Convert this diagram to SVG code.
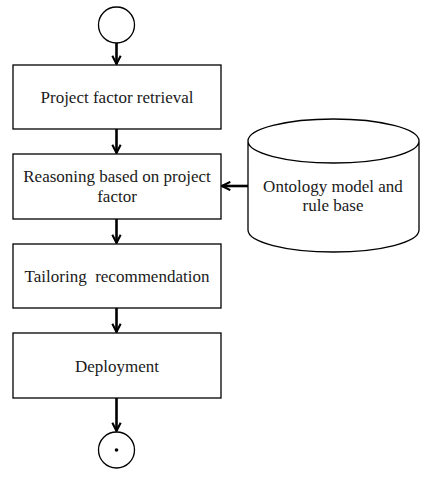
<svg xmlns="http://www.w3.org/2000/svg" width="434" height="478" viewBox="0 0 434 478">
<defs>
<style>
.box{fill:#fff;stroke:#000;stroke-width:1.3}
.t{font-family:'Liberation Serif','Times New Roman',serif;font-size:17px;fill:#1a1a1a;text-anchor:middle}
.c{fill:none;stroke:#000;stroke-width:2.6}
</style>
<marker id="ah" viewBox="0 0 10 10" refX="9" refY="5" markerWidth="4" markerHeight="4" orient="auto" markerUnits="strokeWidth">
<path d="M1,1 L9,5 L1,9" fill="none" stroke="#000" stroke-width="2"/>
</marker>
</defs>
<rect width="434" height="478" fill="#fff"/>
<g id="start"><circle cx="116.5" cy="25" r="18" class="box"/></g>
<g id="n1"><rect x="13" y="65" width="208" height="64" class="box"/><text class="t" x="117" y="103">Project factor retrieval</text></g>
<g id="n2"><rect x="13" y="154" width="208" height="65" class="box"/><text class="t" x="117" y="182">Reasoning based on project</text><text class="t" x="117" y="202">factor</text></g>
<g id="n3"><rect x="13" y="244" width="208" height="64" class="box"/><text class="t" x="117" y="282" xml:space="preserve">Tailoring  recommendation</text></g>
<g id="n4"><rect x="13" y="333" width="208" height="65" class="box"/><text class="t" x="117" y="372">Deployment</text></g>
<g id="end"><circle cx="116.5" cy="450" r="18" class="box"/><circle cx="116.5" cy="450" r="1.8" fill="#000"/></g>
<g id="db"><path d="M248,141 L248,230 A85.5,22 0 0 0 419,230 L419,141 A85.5,22 0 0 0 248,141 A85.5,22 0 0 0 419,141" class="box"/><text class="t" x="333" y="192">Ontology model and</text><text class="t" x="333" y="211">rule base</text></g>
<g id="connectors">
<line x1="116.5" y1="43" x2="116.5" y2="64" class="c" marker-end="url(#ah)"/>
<line x1="116.5" y1="129" x2="116.5" y2="153" class="c" marker-end="url(#ah)"/>
<line x1="116.5" y1="219" x2="116.5" y2="243" class="c" marker-end="url(#ah)"/>
<line x1="116.5" y1="308" x2="116.5" y2="332" class="c" marker-end="url(#ah)"/>
<line x1="116.5" y1="398" x2="116.5" y2="431" class="c" marker-end="url(#ah)"/>
<line x1="248" y1="186" x2="222" y2="186" class="c" marker-end="url(#ah)"/>
</g>
</svg>
